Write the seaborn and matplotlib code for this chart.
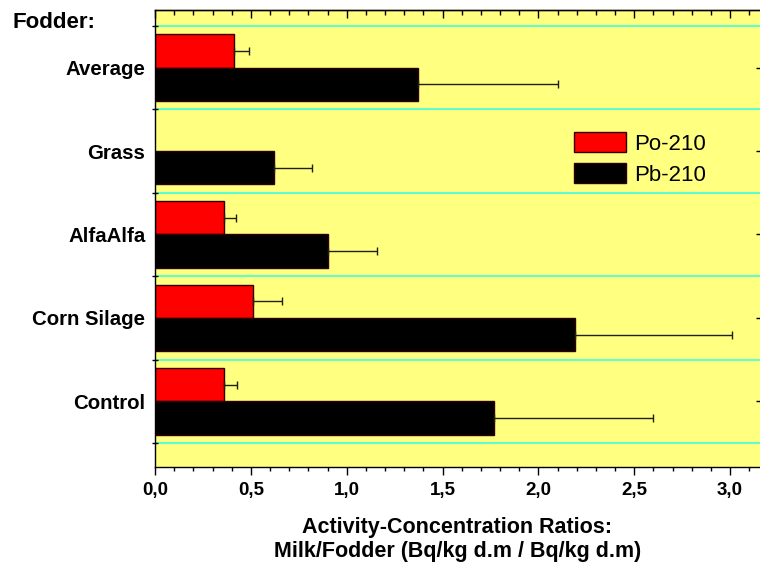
import numpy as np
import pandas as pd
import matplotlib
matplotlib.use("Agg")
import matplotlib.pyplot as plt
from matplotlib.ticker import MultipleLocator, FuncFormatter
import seaborn as sns

# Fodder categories (top to bottom) and milk/fodder activity-concentration ratios
fodders = ["Average", "Grass", "AlfaAlfa", "Corn Silage", "Control"]
isotopes = ["Po-210", "Pb-210"]
po210 = [0.41, np.nan, 0.36, 0.51, 0.36]
po210_err = [0.08, np.nan, 0.06, 0.15, 0.07]
pb210 = [1.37, 0.62, 0.90, 2.19, 1.77]
pb210_err = [0.73, 0.20, 0.26, 0.82, 0.83]

df = pd.DataFrame({
    "Fodder": fodders * 2,
    "Isotope": [isotopes[0]] * len(fodders) + [isotopes[1]] * len(fodders),
    "Ratio": po210 + pb210,
})

sns.set_style("ticks")
plt.rcParams["font.family"] = ["Liberation Sans", "DejaVu Sans"]
for key in ["text.color", "axes.labelcolor", "xtick.color", "ytick.color"]:
    plt.rcParams[key] = "black"

fig = plt.figure(figsize=(7.6, 5.71), dpi=100)
ax = fig.add_axes([155 / 760, 1 - 467 / 571, 605 / 760, 457 / 571])
ax.set_facecolor("#FFFF80")

sns.barplot(
    data=df, y="Fodder", x="Ratio", hue="Isotope", orient="h",
    order=fodders, hue_order=isotopes,
    palette={"Po-210": "#FF0000", "Pb-210": "#000000"},
    saturation=1, width=0.8, errorbar=None,
    edgecolor="#300000", linewidth=1.0, ax=ax,
)

# one-sided error bars at the end of each drawn bar
for container, errs in zip(ax.containers, [po210_err, pb210_err]):
    ys, xs, es = [], [], []
    for bar in container:
        w = bar.get_width()
        if not np.isfinite(w):
            continue
        yc = bar.get_y() + bar.get_height() / 2
        i = int(round(yc))
        ys.append(yc)
        xs.append(w)
        es.append(errs[i])
    ax.errorbar(xs, ys, xerr=[np.zeros(len(es)), es], fmt="none",
                ecolor="#202010", elinewidth=1.0, capsize=3, capthick=1.0, zorder=4)

# axis limits and ticks
ax.set_xlim(0, 3.156)
ax.set_ylim(4.788, -0.692)
ax.xaxis.set_major_locator(MultipleLocator(0.5))
ax.xaxis.set_minor_locator(MultipleLocator(0.1))
ax.xaxis.set_major_formatter(FuncFormatter(lambda v, p: f"{v:.1f}".replace(".", ",")))
ax.tick_params(axis="x", which="major", direction="out", length=6, width=1, pad=5,
               labelsize=13.5)
ax.tick_params(axis="x", which="minor", direction="out", length=3, width=1)
for lab in ax.get_xticklabels():
    lab.set_fontweight("bold")

ax.set_yticks(range(len(fodders)))
ax.set_yticks(np.arange(-0.5, len(fodders), 1.0), minor=True)
ax.tick_params(axis="y", which="major", length=0, pad=7, labelsize=14.7)
ax.tick_params(axis="y", which="minor", direction="inout", length=5, width=1)
for lab in ax.get_yticklabels():
    lab.set_fontweight("bold")

ax.grid(which="minor", axis="y", color="#3CFFE6", linewidth=1.2)
ax.grid(which="major", visible=False)
ax.set_axisbelow(True)

for side in ["left", "bottom", "top"]:
    ax.spines[side].set_visible(True)
    ax.spines[side].set_linewidth(1.0)
    ax.spines[side].set_color("black")
ax.spines["right"].set_visible(False)

# inward ticks along the top edge
top = ax.secondary_xaxis("top")
top.xaxis.set_major_locator(MultipleLocator(0.5))
top.xaxis.set_minor_locator(MultipleLocator(0.1))
top.tick_params(axis="x", which="major", direction="in", length=6, width=1, labeltop=False)
top.tick_params(axis="x", which="minor", direction="in", length=3.5, width=1)
top.spines["top"].set_linewidth(1.0)

# small inward ticks on the right edge at each category
right = ax.secondary_yaxis("right")
right.set_yticks(range(len(fodders)))
right.tick_params(axis="y", which="major", direction="in", length=3, width=1, labelright=False)
right.spines["right"].set_visible(False)

ax.set_ylabel("")
ax.set_xlabel("Activity-Concentration Ratios:\nMilk/Fodder (Bq/kg d.m / Bq/kg d.m)",
              fontsize=15.5, fontweight="bold", labelpad=13, linespacing=1.15)

fig.text(12 / 760, 1 - 23 / 571, "Fodder:", fontsize=16, fontweight="bold",
         ha="left", va="center")

handles, labels = ax.get_legend_handles_labels()
ax.legend(handles, labels, loc="upper left", bbox_to_anchor=(574 / 760, 1 - 132 / 571),
          bbox_transform=fig.transFigure, frameon=False, fontsize=16,
          handlelength=2.35, handleheight=1.0, handletextpad=0.35,
          labelspacing=0.4, borderpad=0, borderaxespad=0)

fig.savefig("out.png", dpi=100)
